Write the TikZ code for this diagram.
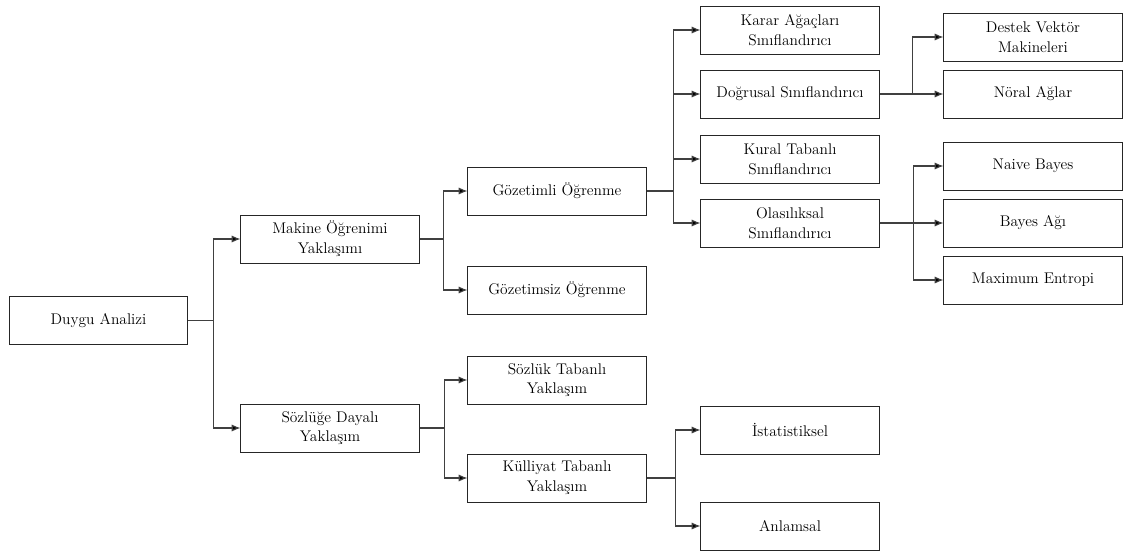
\documentclass[tikz,border=0pt]{standalone}
\usepackage{tikz}
\usepackage{xcolor}
\usetikzlibrary{calc,arrows.meta}

\definecolor{linegray}{HTML}{404040}

\begin{document}
\begin{tikzpicture}[x=0.025cm,y=-0.025cm]
        \tikzstyle{every node}=[draw=black!85,line width=0.7pt,rectangle,minimum width=4.45cm,minimum height=1.2cm,inner sep=0pt,align=center,font=\fontsize{11}{14}\selectfont]
        \tikzstyle{arr}=[draw=linegray,line width=0.8pt,-{Latex[length=2.2mm,width=1.8mm,fill=black]}]
        \useasboundingbox (0,0) rectangle (1124,554);

            % root and first level
            \node (duygu) at (98.5,320.5) {Duygu Analizi};
            \node (makine) at ($(duygu)+(231.5,-81.5)$) {Makine Öğrenimi\\Yaklaşımı};
            \node (sozluge) at ($(duygu)+(231.5,107.5)$) {Sözlüğe Dayalı\\Yaklaşım};

            % second level
            \node (gozetimli) at ($(makine)+(227,-48)$) {Gözetimli Öğrenme};
            \node (gozetimsiz) at ($(makine)+(227,51)$) {Gözetimsiz Öğrenme};
            \node (sozluk) at ($(sozluge)+(227,-48)$) {Sözlük Tabanlı\\Yaklaşım};
            \node (kulliyat) at ($(sozluge)+(227,50)$) {Külliyat Tabanlı\\Yaklaşım};

            % classifiers
            \node (karar) at (790,30) {Karar Ağaçları\\Sınıflandırıcı};
            \node (dogrusal) at ($(karar)+(0,64)$) {Doğrusal Sınıflandırıcı};
            \node (kural) at ($(dogrusal)+(0,65)$) {Kural Tabanlı\\Sınıflandırıcı};
            \node (olasilik) at ($(kural)+(0,64)$) {Olasılıksal\\Sınıflandırıcı};

            \node (istat) at ($(kulliyat)+(233,-48)$) {İstatistiksel};
            \node (anlamsal) at ($(kulliyat)+(233,48)$) {Anlamsal};

            % last level
            \node (destek) at ($(dogrusal)+(243,-57)$) {Destek Vektör\\Makineleri};
            \node (noral) at ($(dogrusal)+(243,0)$) {Nöral Ağlar};
            \node (naive) at ($(olasilik)+(243,-57)$) {Naive Bayes};
            \node (bayesag) at ($(olasilik)+(243,0)$) {Bayes Ağı};
            \node (maxent) at ($(olasilik)+(243,57)$) {Maximum Entropi};

            \draw[arr] (duygu.east) -- ++(25.5,0) |- (makine.west);
            \draw[arr] (duygu.east) -- ++(25.5,0) |- (sozluge.west);

            \draw[arr] (makine.east) -- ++(24,0) |- (gozetimli.west);
            \draw[arr] (makine.east) -- ++(24,0) |- (gozetimsiz.west);
            \draw[arr] (sozluge.east) -- ++(25,0) |- (sozluk.west);
            \draw[arr] (sozluge.east) -- ++(25,0) |- (kulliyat.west);

            \draw[arr] (gozetimli.east) -- ++(27,0) |- (karar.west);
            \draw[arr] (gozetimli.east) -- ++(27,0) |- (dogrusal.west);
            \draw[arr] (gozetimli.east) -- ++(27,0) |- (kural.west);
            \draw[arr] (gozetimli.east) -- ++(27,0) |- (olasilik.west);

            \draw[arr] (kulliyat.east) -- ++(29,0) |- (istat.west);
            \draw[arr] (kulliyat.east) -- ++(29,0) |- (anlamsal.west);

            \draw[arr] (dogrusal.east) -- ++(33,0) |- (destek.west);
            \draw[arr] (dogrusal.east) -- ++(33,0) |- (noral.west);

            \draw[arr] (olasilik.east) -- ++(34,0) |- (naive.west);
            \draw[arr] (olasilik.east) -- ++(34,0) |- (bayesag.west);
            \draw[arr] (olasilik.east) -- ++(34,0) |- (maxent.west);

        \end{tikzpicture}
\end{document}
